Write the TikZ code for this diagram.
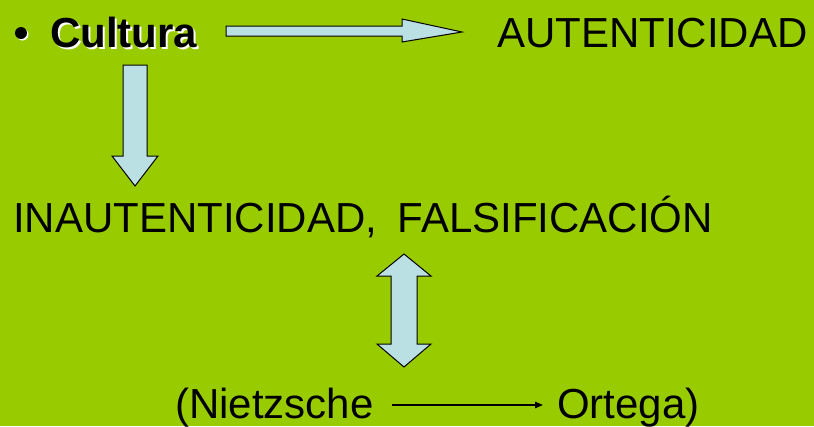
\documentclass[tikz,border=0pt]{standalone}
\usepackage{fontspec}
\setmainfont{Liberation Sans}
\usetikzlibrary{arrows.meta}
\definecolor{bg}{HTML}{99CC00}
\definecolor{arrowfill}{HTML}{BBE0E3}
\begin{document}
\begin{tikzpicture}[x=1pt,y=-1pt,
  txt/.style={inner sep=0pt,anchor=base west,font=\fontsize{42}{50}\selectfont},
  blockarrow/.style={draw=black,line width=1pt,fill=arrowfill,line join=miter},
]
\fill[bg] (0,0) rectangle (814,426);
\useasboundingbox (0,0) rectangle (814,426);
% bullet with shadow
\fill[white] (22.5,34.5) circle (6);
\fill[black] (21,33) circle (6);
% Cultura with white shadow
\node[txt,font=\fontsize{42}{50}\selectfont\bfseries,text=white] (cultshadow) at (52,49) {Cultura};
\node[txt,font=\fontsize{42}{50}\selectfont\bfseries] (cultura) at (50,47) {Cultura};
\node[txt] (auth) at (497,47) {AUTENTICIDAD};
\node[txt] (inauth) at (13,232) {INAUTENTICIDAD,\hspace{20.5pt}FALSIFICACIÓN};
\node[txt] (nie) at (175,418) {(Nietzsche};
\node[txt] (ort) at (557,418) {Ortega)};
% horizontal block arrow
\draw[blockarrow] (226,26) -- (402,26) -- (402,19) -- (462,32) -- (402,42) -- (402,36) -- (226,36) -- cycle;
% down block arrow
\draw[blockarrow] (123,65) -- (147,65) -- (147,156) -- (158,156) -- (135,186) -- (112,156) -- (123,156) -- cycle;
% double block arrow
\draw[blockarrow] (404,254) -- (431,276) -- (417,276) -- (417,344) -- (431,344) -- (404,367) -- (377,344) -- (391,344) -- (391,276) -- (377,276) -- cycle;
% thin arrow
\coordinate (a1) at (392,405);
\coordinate (a2) at (543,405);
\draw[line width=1.3pt,-{Triangle[length=8pt,width=6.5pt]}] (a1) -- (a2);
\end{tikzpicture}
\end{document}
